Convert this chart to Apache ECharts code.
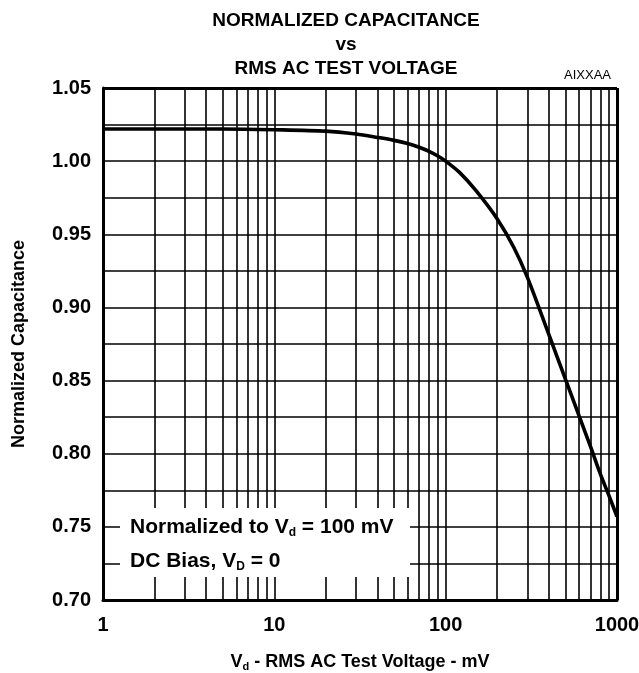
<!DOCTYPE html>
<html>
<head>
<meta charset="utf-8">
<style>
  html, body { margin: 0; padding: 0; background: #fff; }
  #chart { width: 639px; height: 673px; }
</style>
<script src="https://cdn.jsdelivr.net/npm/echarts@6/dist/echarts.min.js"></script>
</head>
<body>
<div id="chart"></div>
<script>
// Test voltage (mV) and normalized capacitance
var voltage = [1, 2, 5, 10, 20, 30, 40, 50, 60, 70, 80, 90, 100, 120, 150, 200, 250, 300, 400, 500, 600, 700, 800, 900, 1000];
var capacitance = [1.022, 1.022, 1.022, 1.0215, 1.0205, 1.0185, 1.0162, 1.0142, 1.0120, 1.0095, 1.0067, 1.0035, 1.000, 0.9925, 0.980, 0.9605, 0.941, 0.9205, 0.8815, 0.851, 0.826, 0.805, 0.786, 0.771, 0.757];

// Intermediate log-decade grid values
var minorGrid = [2, 3, 4, 5, 6, 7, 8, 9, 20, 30, 40, 50, 60, 70, 80, 90, 200, 300, 400, 500, 600, 700, 800, 900];

// Axis tick labels
var xTickLabels = ['1', '10', '100', '1000'];
var yMin = 0.70, yMax = 1.05, yStep = 0.025;

var FONT = '"Liberation Sans", Arial, Helvetica, sans-serif';
var chart = echarts.init(document.getElementById('chart'), null, { renderer: 'canvas' });

var points = voltage.map(function (v, i) { return [v, capacitance[i]]; });

var option = {
  backgroundColor: '#ffffff',
  animation: false,
  title: {
    text: 'NORMALIZED CAPACITANCE\nvs\nRMS AC TEST VOLTAGE',
    left: 341,
    top: 4,
    textAlign: 'center',
    textStyle: { fontFamily: FONT, fontWeight: 'bold', fontSize: 19, lineHeight: 24, color: '#000' }
  },
  grid: { left: 103, right: 22, top: 88, bottom: 73, show: false, containLabel: false, outerBoundsMode: 'none' },
  xAxis: {
    type: 'log',
    logBase: 10,
    min: 1,
    max: 1000,
    name: '{v|V}{sub|d}{t| - RMS AC Test Voltage - mV}',
    nameLocation: 'middle',
    nameGap: 53,
    nameTextStyle: {
      rich: {
        v: { fontFamily: FONT, fontWeight: 'bold', fontSize: 18, color: '#000' },
        sub: { fontFamily: FONT, fontWeight: 'bold', fontSize: 11, color: '#000', verticalAlign: 'bottom', padding: [8, 0, 0, 0] },
        t: { fontFamily: FONT, fontWeight: 'bold', fontSize: 18, color: '#000' }
      }
    },
    axisLine: { show: true, onZero: false, lineStyle: { color: '#000', width: 3 } },
    axisTick: { show: false },
    axisLabel: {
      margin: 15,
      fontFamily: FONT, fontWeight: 'bold', fontSize: 20, color: '#000',
      formatter: function (v) {
        var i = Math.round(Math.log10(v));
        return xTickLabels[i] !== undefined ? xTickLabels[i] : '';
      }
    },
    splitLine: { show: true, lineStyle: { color: '#000', width: 1.6 } }
  },
  yAxis: {
    type: 'value',
    min: yMin,
    max: yMax,
    interval: yStep,
    name: 'Normalized Capacitance',
    nameLocation: 'middle',
    nameGap: 75,
    nameTextStyle: { fontFamily: FONT, fontWeight: 'bold', fontSize: 18, color: '#000' },
    axisLine: { show: true, lineStyle: { color: '#000', width: 3 } },
    axisTick: { show: false },
    axisLabel: {
      margin: 12,
      fontFamily: FONT, fontWeight: 'bold', fontSize: 20, color: '#000',
      formatter: function (v) {
        return Math.round(v * 40) % 2 === 0 ? v.toFixed(2) : '';
      }
    },
    splitLine: { show: true, lineStyle: { color: '#000', width: 1.6 } }
  },
  series: [
    {
      // frame on the top and right edges plus minor decade lines
      type: 'line',
      data: [],
      silent: true,
      markLine: {
        silent: true,
        symbol: 'none',
        label: { show: false },
        lineStyle: { color: '#000', width: 1.6, type: 'solid' },
        data: minorGrid.map(function (v) { return { xAxis: v }; })
          .concat([
            { xAxis: 1000, lineStyle: { width: 3 } },
            { yAxis: yMax, lineStyle: { width: 3 } }
          ])
      },
      z: 2
    },
    {
      type: 'line',
      data: points,
      smooth: 0.3,
      showSymbol: false,
      lineStyle: { color: '#000', width: 3.6 },
      z: 5
    }
  ],
  graphic: [
    {
      type: 'rect',
      shape: { x: 120, y: 508, width: 290, height: 69 },
      style: { fill: '#fff' },
      z: 10
    },
    {
      type: 'text',
      left: 130,
      top: 515,
      z: 11,
      style: {
        text: '{m|Normalized to V}{s|d}{m| = 100 mV}\n{m|DC Bias, V}{s|D}{m| = 0}',
        rich: {
          m: { fontFamily: FONT, fontWeight: 'bold', fontSize: 21, lineHeight: 34, fill: '#000' },
          s: { fontFamily: FONT, fontWeight: 'bold', fontSize: 12, lineHeight: 34, fill: '#000', padding: [12, 0, 0, 0] }
        }
      }
    },
    {
      type: 'text',
      right: 28,
      top: 69,
      z: 11,
      style: { text: 'AIXXAA', fontFamily: FONT, fontSize: 13, fill: '#000' }
    }
  ]
};

chart.setOption(option);
</script>
</body>
</html>
